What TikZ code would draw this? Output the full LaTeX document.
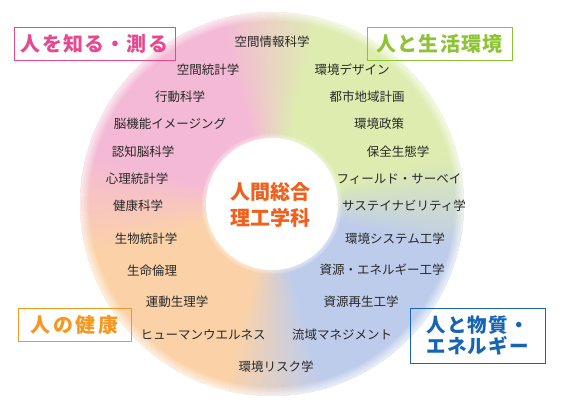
\documentclass[tikz,border=0pt]{standalone}
\usepackage{fontspec}
\setmainfont{Noto Sans CJK JP}
\definecolor{ringP}{RGB}{244,186,213}
\definecolor{ringG}{RGB}{222,236,176}
\definecolor{ringB}{RGB}{190,204,236}
\definecolor{ringO}{RGB}{251,210,168}
\definecolor{txt}{RGB}{40,40,40}
\definecolor{catP}{RGB}{232,72,142}
\definecolor{catG}{RGB}{142,196,52}
\definecolor{catO}{RGB}{246,152,32}
\definecolor{catB}{RGB}{22,100,180}
\definecolor{ctr}{RGB}{240,96,28}
\tikzset{
  lab/.style={font=\fontsize{12.5}{14}\selectfont, text=txt, inner sep=0pt},
  catbox/.style={draw=#1, line width=0.9pt, text=#1, inner sep=0pt, align=center,
    font=\fontsize{20}{23}\selectfont\bfseries\addfontfeatures{LetterSpace=6}},
}
\begin{document}
\begin{tikzpicture}[x=1pt,y=1pt]
\useasboundingbox (0,0) rectangle (567,-407);
\coordinate (C) at (272,-204);
% ring with four blended colours
\foreach \a in {0,1,...,359}{
  \pgfmathsetmacro{\m}{mod(\a+15,360)}
  \pgfmathtruncatemacro{\q}{int(\m/90)}
  \pgfmathsetmacro{\r}{\m-90*\q}
  \pgfmathtruncatemacro{\t}{min(100,max(0,\r*100/30))}
  \ifcase\q \colorlet{cc}{ringG!\t!ringB}\or \colorlet{cc}{ringP!\t!ringG}\or \colorlet{cc}{ringO!\t!ringP}\or \colorlet{cc}{ringB!\t!ringO}\fi
  \fill[cc] (C) -- ++(\a:192) arc[start angle=\a, end angle=\a+1.6, radius=192] -- cycle;
}
% soft outer and inner edges
\foreach \i in {0,1,...,5}{
  \pgfmathsetmacro{\op}{0.6-0.1*\i}
  \draw[white, opacity=\op, line width=1.6pt] (C) circle[radius=191.2-1.5*\i];
}
\foreach \i in {0,1,2}{
  \pgfmathsetmacro{\op}{0.4-0.12*\i}
  \draw[white, opacity=\op, line width=1.6pt] (C) circle[radius=66.5+1.5*\i];
}
\fill[white] (C) circle[radius=66];
% centre
\node[font=\fontsize{20}{26}\selectfont\bfseries, text=ctr, align=center, inner sep=0pt] (center) at (270,-205) {人間総合\\理工学科};
% labels
\node[lab] (l1) at (272,-42) {空間情報科学};
\node[lab] (l2) at (208,-70) {空間統計学};
\node[lab] (l3) at (180,-97) {行動科学};
\node[lab] (l4) at (170,-124) {脳機能イメージング};
\node[lab] (l5) at (143,-152) {認知脳科学};
\node[lab] (l6) at (137,-179) {心理統計学};
\node[lab] (l7) at (138,-206) {健康科学};
\node[lab] (l8) at (146,-239) {生物統計学};
\node[lab] (l9) at (152,-271) {生命倫理};
\node[lab] (l10) at (177,-302) {運動生理学};
\node[lab] (l11) at (203,-335) {ヒューマンウエルネス};
\node[lab] (l12) at (276,-367) {環境リスク学};
\node[lab] (r1) at (352,-70) {環境デザイン};
\node[lab] (r2) at (367,-97) {都市地域計画};
\node[lab] (r3) at (379,-124) {環境政策};
\node[lab] (r4) at (398,-152) {保全生態学};
\node[lab] (r5) at (399,-179) {フィールド・サーベイ};
\node[lab] (r6) at (404,-206) {サステイナビリティ学};
\node[lab] (r7) at (395,-239) {環境システム工学};
\node[lab] (r8) at (382,-270) {資源・エネルギー工学};
\node[lab] (r9) at (361,-302) {資源再生工学};
\node[lab] (r10) at (342,-335) {流域マネジメント};
% category boxes
\node[catbox=catP, minimum width=161pt, minimum height=33pt] (kP) at (94.5,-43.5) {人を知る・測る};
\node[catbox=catG, minimum width=145pt, minimum height=33pt] (kG) at (439.5,-43.5) {人と生活環境};
\node[catbox=catO, minimum width=113pt, minimum height=33pt, font=\fontsize{20}{23}\selectfont\bfseries\addfontfeatures{LetterSpace=12}] (kO) at (74.5,-324.5) {人の健康};
\node[catbox=catB, minimum width=135pt, minimum height=55pt, font=\fontsize{19.5}{21.5}\selectfont\bfseries\addfontfeatures{LetterSpace=6}] (kB) at (477.5,-335.5) {人と物質・\\エネルギー};
\end{tikzpicture}
\end{document}
